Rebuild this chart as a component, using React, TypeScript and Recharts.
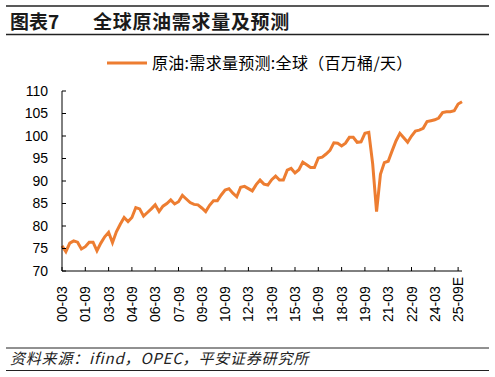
import React from "react";
import { LineChart, Line, XAxis, YAxis } from "recharts";

const quarters: string[] = [];
for (let y = 0; y <= 25; y++) {
  for (const m of ["03", "06", "09", "12"]) {
    const yy = String(y).padStart(2, "0");
    quarters.push(`${yy}-${m}`);
  }
}

const demand: number[] = [
  75.6, 74.3, 76.2, 76.7, // 2000
  76.4, 74.9, 75.4, 76.4, // 2001
  76.4, 74.5, 76.2, 77.6, // 2002
  78.6, 76.3, 78.7, 80.4, // 2003
  81.9, 81.0, 81.9, 84.1, // 2004
  83.8, 82.2, 83.0, 83.8, // 2005
  84.7, 83.2, 84.4, 85.0, // 2006
  85.8, 84.9, 85.4, 86.8, // 2007
  86.0, 85.2, 84.8, 84.7, // 2008
  84.0, 83.2, 84.6, 85.6, // 2009
  85.6, 86.9, 88.0, 88.3, // 2010
  87.3, 86.5, 88.6, 88.8, // 2011
  88.3, 87.8, 89.2, 90.2, // 2012
  89.3, 89.1, 90.3, 91.1, // 2013
  90.2, 90.2, 92.4, 92.8, // 2014
  91.8, 92.5, 94.2, 93.6, // 2015
  93.0, 93.0, 95.1, 95.3, // 2016
  96.0, 96.8, 98.5, 98.4, // 2017
  97.8, 98.4, 99.7, 99.7, // 2018
  98.6, 98.7, 100.6, 100.8, // 2019
  93.8, 83.2, 91.5, 94.1, // 2020
  94.4, 96.7, 98.9, 100.6, // 2021
  99.6, 98.6, 100.0, 101.1, // 2022
  101.3, 101.7, 103.2, 103.4, // 2023
  103.6, 104.0, 105.2, 105.4, // 2024
  105.4, 105.6, 107.1, 107.6, // 2025E
];

const yTicks: number[] = [70, 75, 80, 85, 90, 95, 100, 105, 110];

const data = quarters.map((q, i) => ({
  q: q === "25-09" ? "25-09E" : q,
  v: demand[i],
}));

const titleLabel = "图表7";
const titleText = "全球原油需求量及预测";
const legendText = "原油:需求量预测:全球（百万桶/天）";
const sourceText = "资料来源：ifind，OPEC，平安证券研究所";

const ORANGE = "#ED7D31";
const NUM_FONT = "'Liberation Sans', Arial, sans-serif";
const CJK_FONT = "'Noto Sans CJK SC', 'Liberation Sans', sans-serif";

const XTick = (props: any) => {
  const { x, payload } = props;
  const baseY = 322;
  return (
    <text
      x={x}
      y={baseY}
      dy="0.36em"
      transform={`rotate(-90, ${x}, ${baseY})`}
      textAnchor="start"
      fontFamily={NUM_FONT}
      fontSize={14}
      fill="#000"
    >
      {payload.value}
    </text>
  );
};

export default function App() {
  return (
    <div
      style={{
        position: "absolute",
        left: 0,
        top: 0,
        width: 495,
        height: 377,
        background: "#fff",
      }}
    >
      <LineChart
        width={495}
        height={377}
        data={data}
        margin={{ top: 91, right: 33, bottom: 56, left: 0 }}
      >
        <XAxis
          dataKey="q"
          interval={5}
          height={50}
          tickSize={-4}
          tickMargin={0}
          tick={<XTick />}
          axisLine={{ stroke: "#000", strokeWidth: 1 }}
          tickLine={{ stroke: "#000", strokeWidth: 1 }}
        />
        <YAxis
          width={62}
          domain={[70, 110]}
          ticks={yTicks}
          interval={0}
          tickSize={-4}
          tickMargin={18}
          axisLine={{ stroke: "#000", strokeWidth: 1 }}
          tickLine={{ stroke: "#000", strokeWidth: 1 }}
          tick={{ fill: "#000", fontSize: 14, fontFamily: NUM_FONT }}
        />
        <Line
          dataKey="v"
          type="linear"
          stroke={ORANGE}
          strokeWidth={3}
          dot={false}
          isAnimationActive={false}
        />
      </LineChart>
      <svg
        width={495}
        height={377}
        style={{ position: "absolute", left: 0, top: 0, pointerEvents: "none" }}
      >
        <line x1={6} x2={489} y1={6} y2={6} stroke="#222" strokeWidth={1.5} />
        <text x={10} y={29} fontFamily={CJK_FONT} fontWeight="bold" fontSize={19} fill="#1a1a1a">
          {titleLabel}
        </text>
        <text x={93} y={29} fontFamily={CJK_FONT} fontWeight="bold" fontSize={19} letterSpacing={0.7} fill="#1a1a1a">
          {titleText}
        </text>
        <line x1={6} x2={489} y1={34.5} y2={34.5} stroke="#222" strokeWidth={1.5} />
        <line x1={107} x2={147} y1={63} y2={63} stroke={ORANGE} strokeWidth={3} />
        <text x={152} y={68.5} fontFamily={CJK_FONT} fontSize={16} letterSpacing={0.3} fill="#000">
          {legendText}
        </text>
        <line x1={6} x2={489} y1={348} y2={348} stroke="#222" strokeWidth={1} />
        <text x={10} y={364} fontFamily={CJK_FONT} fontStyle="italic" fontSize={15} letterSpacing={0.8} fill="#222">
          {sourceText}
        </text>
        <line x1={6} x2={489} y1={370.5} y2={370.5} stroke="#222" strokeWidth={1} />
      </svg>
    </div>
  );
}
